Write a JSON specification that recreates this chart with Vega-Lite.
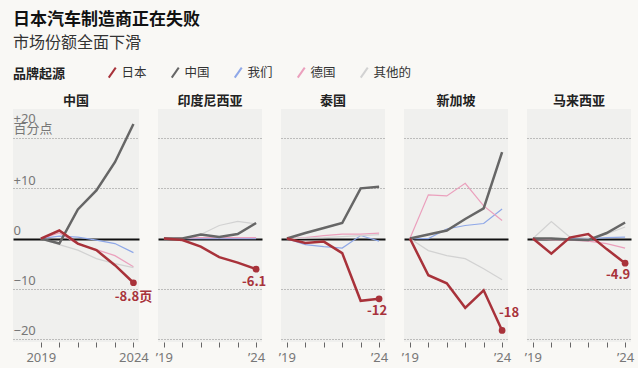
{
  "$schema": "https://vega.github.io/schema/vega-lite/v6.json",
  "background": "#f9f8f5",
  "padding": {"left": 13, "right": 4, "top": 11, "bottom": 4},
  "bounds": "flush",
  "title": {"text": "日本汽车制造商正在失败", "subtitle": "市场份额全面下滑", "anchor": "start", "frame": "group", "fontSize": 17, "fontWeight": "bold", "color": "#111111", "subtitleFontSize": 16, "subtitleColor": "#333333", "subtitleFont": "Noto Sans CJK SC", "subtitlePadding": 6, "offset": 14},
  "data": {"values": [
    {"c":"中国","b":"日本","yr":2019,"v":0},{"c":"中国","b":"日本","yr":2020,"v":1.6},{"c":"中国","b":"日本","yr":2021,"v":-1.0},{"c":"中国","b":"日本","yr":2022,"v":-2.3},{"c":"中国","b":"日本","yr":2023,"v":-5.3},{"c":"中国","b":"日本","yr":2024,"v":-8.8,"t":"-8.8页"},
    {"c":"中国","b":"中国","yr":2019,"v":0},{"c":"中国","b":"中国","yr":2020,"v":-1.0},{"c":"中国","b":"中国","yr":2021,"v":5.8},{"c":"中国","b":"中国","yr":2022,"v":9.6},{"c":"中国","b":"中国","yr":2023,"v":15.2},{"c":"中国","b":"中国","yr":2024,"v":22.8},
    {"c":"中国","b":"我们","yr":2019,"v":0},{"c":"中国","b":"我们","yr":2020,"v":0.5},{"c":"中国","b":"我们","yr":2021,"v":0.3},{"c":"中国","b":"我们","yr":2022,"v":-0.3},{"c":"中国","b":"我们","yr":2023,"v":-1.0},{"c":"中国","b":"我们","yr":2024,"v":-2.8},
    {"c":"中国","b":"德国","yr":2019,"v":0},{"c":"中国","b":"德国","yr":2020,"v":1.1},{"c":"中国","b":"德国","yr":2021,"v":-1.1},{"c":"中国","b":"德国","yr":2022,"v":-2.2},{"c":"中国","b":"德国","yr":2023,"v":-3.4},{"c":"中国","b":"德国","yr":2024,"v":-5.6},
    {"c":"中国","b":"其他的","yr":2019,"v":0},{"c":"中国","b":"其他的","yr":2020,"v":-1.2},{"c":"中国","b":"其他的","yr":2021,"v":-2.3},{"c":"中国","b":"其他的","yr":2022,"v":-4.0},{"c":"中国","b":"其他的","yr":2023,"v":-5.0},{"c":"中国","b":"其他的","yr":2024,"v":-5.8},
    {"c":"印度尼西亚","b":"日本","yr":2019,"v":0},{"c":"印度尼西亚","b":"日本","yr":2020,"v":-0.3},{"c":"印度尼西亚","b":"日本","yr":2021,"v":-1.6},{"c":"印度尼西亚","b":"日本","yr":2022,"v":-3.7},{"c":"印度尼西亚","b":"日本","yr":2023,"v":-4.8},{"c":"印度尼西亚","b":"日本","yr":2024,"v":-6.1,"t":"-6.1"},
    {"c":"印度尼西亚","b":"中国","yr":2019,"v":0},{"c":"印度尼西亚","b":"中国","yr":2020,"v":0},{"c":"印度尼西亚","b":"中国","yr":2021,"v":0.8},{"c":"印度尼西亚","b":"中国","yr":2022,"v":0.3},{"c":"印度尼西亚","b":"中国","yr":2023,"v":0.9},{"c":"印度尼西亚","b":"中国","yr":2024,"v":3.1},
    {"c":"印度尼西亚","b":"我们","yr":2019,"v":0},{"c":"印度尼西亚","b":"我们","yr":2020,"v":0},{"c":"印度尼西亚","b":"我们","yr":2021,"v":0},{"c":"印度尼西亚","b":"我们","yr":2022,"v":0},{"c":"印度尼西亚","b":"我们","yr":2023,"v":0},{"c":"印度尼西亚","b":"我们","yr":2024,"v":0},
    {"c":"印度尼西亚","b":"德国","yr":2019,"v":0},{"c":"印度尼西亚","b":"德国","yr":2020,"v":0.1},{"c":"印度尼西亚","b":"德国","yr":2021,"v":0.2},{"c":"印度尼西亚","b":"德国","yr":2022,"v":0.2},{"c":"印度尼西亚","b":"德国","yr":2023,"v":0.2},{"c":"印度尼西亚","b":"德国","yr":2024,"v":0.2},
    {"c":"印度尼西亚","b":"其他的","yr":2019,"v":0},{"c":"印度尼西亚","b":"其他的","yr":2020,"v":0},{"c":"印度尼西亚","b":"其他的","yr":2021,"v":0.8},{"c":"印度尼西亚","b":"其他的","yr":2022,"v":2.6},{"c":"印度尼西亚","b":"其他的","yr":2023,"v":3.4},{"c":"印度尼西亚","b":"其他的","yr":2024,"v":2.9},
    {"c":"泰国","b":"日本","yr":2019,"v":0},{"c":"泰国","b":"日本","yr":2020,"v":-0.9},{"c":"泰国","b":"日本","yr":2021,"v":-0.6},{"c":"泰国","b":"日本","yr":2022,"v":-2.9},{"c":"泰国","b":"日本","yr":2023,"v":-12.4},{"c":"泰国","b":"日本","yr":2024,"v":-12.0,"t":"-12"},
    {"c":"泰国","b":"中国","yr":2019,"v":0},{"c":"泰国","b":"中国","yr":2020,"v":1.1},{"c":"泰国","b":"中国","yr":2021,"v":2.1},{"c":"泰国","b":"中国","yr":2022,"v":3.1},{"c":"泰国","b":"中国","yr":2023,"v":10.0},{"c":"泰国","b":"中国","yr":2024,"v":10.3},
    {"c":"泰国","b":"我们","yr":2019,"v":0},{"c":"泰国","b":"我们","yr":2020,"v":-1.2},{"c":"泰国","b":"我们","yr":2021,"v":-1.6},{"c":"泰国","b":"我们","yr":2022,"v":-1.9},{"c":"泰国","b":"我们","yr":2023,"v":0.6},{"c":"泰国","b":"我们","yr":2024,"v":-0.5},
    {"c":"泰国","b":"德国","yr":2019,"v":0},{"c":"泰国","b":"德国","yr":2020,"v":0.2},{"c":"泰国","b":"德国","yr":2021,"v":0.6},{"c":"泰国","b":"德国","yr":2022,"v":0.9},{"c":"泰国","b":"德国","yr":2023,"v":0.9},{"c":"泰国","b":"德国","yr":2024,"v":1.1},
    {"c":"泰国","b":"其他的","yr":2019,"v":0},{"c":"泰国","b":"其他的","yr":2020,"v":0.1},{"c":"泰国","b":"其他的","yr":2021,"v":0.2},{"c":"泰国","b":"其他的","yr":2022,"v":0.4},{"c":"泰国","b":"其他的","yr":2023,"v":0.6},{"c":"泰国","b":"其他的","yr":2024,"v":0.8},
    {"c":"新加坡","b":"日本","yr":2019,"v":0},{"c":"新加坡","b":"日本","yr":2020,"v":-7.3},{"c":"新加坡","b":"日本","yr":2021,"v":-8.9},{"c":"新加坡","b":"日本","yr":2022,"v":-13.8},{"c":"新加坡","b":"日本","yr":2023,"v":-10.3},{"c":"新加坡","b":"日本","yr":2024,"v":-18.3,"t":"-18"},
    {"c":"新加坡","b":"中国","yr":2019,"v":0},{"c":"新加坡","b":"中国","yr":2020,"v":0.8},{"c":"新加坡","b":"中国","yr":2021,"v":1.6},{"c":"新加坡","b":"中国","yr":2022,"v":3.9},{"c":"新加坡","b":"中国","yr":2023,"v":6.0},{"c":"新加坡","b":"中国","yr":2024,"v":17.2},
    {"c":"新加坡","b":"我们","yr":2019,"v":0},{"c":"新加坡","b":"我们","yr":2020,"v":0},{"c":"新加坡","b":"我们","yr":2021,"v":1.9},{"c":"新加坡","b":"我们","yr":2022,"v":2.6},{"c":"新加坡","b":"我们","yr":2023,"v":3.0},{"c":"新加坡","b":"我们","yr":2024,"v":5.9},
    {"c":"新加坡","b":"德国","yr":2019,"v":0},{"c":"新加坡","b":"德国","yr":2020,"v":8.7},{"c":"新加坡","b":"德国","yr":2021,"v":8.5},{"c":"新加坡","b":"德国","yr":2022,"v":11.0},{"c":"新加坡","b":"德国","yr":2023,"v":6.5},{"c":"新加坡","b":"德国","yr":2024,"v":3.6},
    {"c":"新加坡","b":"其他的","yr":2019,"v":0},{"c":"新加坡","b":"其他的","yr":2020,"v":-2.4},{"c":"新加坡","b":"其他的","yr":2021,"v":-3.4},{"c":"新加坡","b":"其他的","yr":2022,"v":-4.0},{"c":"新加坡","b":"其他的","yr":2023,"v":-6.0},{"c":"新加坡","b":"其他的","yr":2024,"v":-8.2},
    {"c":"马来西亚","b":"日本","yr":2019,"v":0},{"c":"马来西亚","b":"日本","yr":2020,"v":-3.0},{"c":"马来西亚","b":"日本","yr":2021,"v":0.2},{"c":"马来西亚","b":"日本","yr":2022,"v":0.9},{"c":"马来西亚","b":"日本","yr":2023,"v":-2.1},{"c":"马来西亚","b":"日本","yr":2024,"v":-4.9,"t":"-4.9"},
    {"c":"马来西亚","b":"中国","yr":2019,"v":0},{"c":"马来西亚","b":"中国","yr":2020,"v":0},{"c":"马来西亚","b":"中国","yr":2021,"v":-0.2},{"c":"马来西亚","b":"中国","yr":2022,"v":-0.3},{"c":"马来西亚","b":"中国","yr":2023,"v":1.1},{"c":"马来西亚","b":"中国","yr":2024,"v":3.2},
    {"c":"马来西亚","b":"我们","yr":2019,"v":0},{"c":"马来西亚","b":"我们","yr":2020,"v":0},{"c":"马来西亚","b":"我们","yr":2021,"v":0},{"c":"马来西亚","b":"我们","yr":2022,"v":0},{"c":"马来西亚","b":"我们","yr":2023,"v":0.2},{"c":"马来西亚","b":"我们","yr":2024,"v":0.3},
    {"c":"马来西亚","b":"德国","yr":2019,"v":0},{"c":"马来西亚","b":"德国","yr":2020,"v":-0.2},{"c":"马来西亚","b":"德国","yr":2021,"v":-0.3},{"c":"马来西亚","b":"德国","yr":2022,"v":-0.5},{"c":"马来西亚","b":"德国","yr":2023,"v":-1.0},{"c":"马来西亚","b":"德国","yr":2024,"v":-1.9},
    {"c":"马来西亚","b":"其他的","yr":2019,"v":0},{"c":"马来西亚","b":"其他的","yr":2020,"v":3.4},{"c":"马来西亚","b":"其他的","yr":2021,"v":0.3},{"c":"马来西亚","b":"其他的","yr":2022,"v":0.1},{"c":"马来西亚","b":"其他的","yr":2023,"v":0.9},{"c":"马来西亚","b":"其他的","yr":2024,"v":2.3}
  ]},
  "spacing": 19,
  "hconcat": [
    {
      "width": 126, "height": 233,
      "title": {"text": "中国"},
      "transform": [{"filter": "datum.c == '中国'"}],
      "encoding": {
        "x": {"field": "yr", "type": "quantitative", "scale": {"domain": [2017.5, 2024.3], "nice": false, "zero": false}, "axis": {"values": [2019, 2020, 2021, 2022, 2023, 2024], "labelExpr": "datum.value == 2019 || datum.value == 2024 ? '' + datum.value : ''"}},
        "y": {"field": "v", "type": "quantitative", "scale": {"domain": [-20.6, 25.8], "nice": false, "zero": false}, "axis": {"values": [-20, -10, 0, 10, 20], "labelAlign": "left", "labelBaseline": "bottom", "labelPadding": 0, "labelOffset": {"condition": {"test": "datum.value === 20", "value": -13}, "value": -1}, "labelFontSize": 13, "labelColor": "#777777", "labelFont": "Noto Sans, Noto Sans CJK SC", "labelLineHeight": 10, "labelOverlap": false, "labelFlush": false, "labelBound": false, "labelExpr": "datum.value == 20 ? ['+20', '百分点'] : datum.value > 0 ? '+' + datum.value : datum.value < 0 ? '−' + abs(datum.value) : '0'"}}
      },
      "layer": [
        {"transform": [{"filter": "indexof(['我们','德国','其他的'], datum.b) >= 0"}], "mark": {"type": "line", "strokeWidth": 1.2}, "encoding": {"color": {"field": "b", "type": "nominal", "title": "品牌起源", "scale": {"domain": ["日本", "中国", "我们", "德国", "其他的"], "range": ["#a8323a", "#666666", "#8fa8e8", "#eba0bd", "#d2d2d2"]}}}},
        {"transform": [{"filter": "datum.b == '中国'"}], "mark": {"type": "line", "strokeWidth": 2.5}, "encoding": {"color": {"field": "b", "type": "nominal"}}},
        {"transform": [{"filter": "datum.b == '日本'"}], "mark": {"type": "line", "strokeWidth": 2.5}, "encoding": {"color": {"field": "b", "type": "nominal"}}},
        {"transform": [{"filter": "datum.t"}], "mark": {"type": "circle", "size": 45, "opacity": 1, "color": "#a8323a"}},
        {"transform": [{"filter": "datum.t"}], "mark": {"type": "text", "dx": 0, "dy": 14, "fontSize": 13, "fontWeight": "bold", "color": "#a8323a"}, "encoding": {"text": {"field": "t"}}}
      ]
    },
    {
      "width": 104, "height": 233,
      "title": {"text": "印度尼西亚"},
      "transform": [{"filter": "datum.c == '印度尼西亚'"}],
      "encoding": {
        "x": {"field": "yr", "type": "quantitative", "scale": {"domain": [2018.68, 2024.32], "nice": false, "zero": false}, "axis": {"values": [2019, 2020, 2021, 2022, 2023, 2024], "labelExpr": "datum.value == 2019 ? '’19' : datum.value == 2024 ? '’24' : ''"}},
        "y": {"field": "v", "type": "quantitative", "scale": {"domain": [-20.6, 25.8], "nice": false, "zero": false}, "axis": {"values": [-20, -10, 0, 10, 20], "labels": false}}
      },
      "layer": [
        {"transform": [{"filter": "indexof(['我们','德国','其他的'], datum.b) >= 0"}], "mark": {"type": "line", "strokeWidth": 1.2}, "encoding": {"color": {"field": "b", "type": "nominal", "title": "品牌起源", "scale": {"domain": ["日本", "中国", "我们", "德国", "其他的"], "range": ["#a8323a", "#666666", "#8fa8e8", "#eba0bd", "#d2d2d2"]}}}},
        {"transform": [{"filter": "datum.b == '中国'"}], "mark": {"type": "line", "strokeWidth": 2.5}, "encoding": {"color": {"field": "b", "type": "nominal"}}},
        {"transform": [{"filter": "datum.b == '日本'"}], "mark": {"type": "line", "strokeWidth": 2.5}, "encoding": {"color": {"field": "b", "type": "nominal"}}},
        {"transform": [{"filter": "datum.t"}], "mark": {"type": "circle", "size": 45, "opacity": 1, "color": "#a8323a"}},
        {"transform": [{"filter": "datum.t"}], "mark": {"type": "text", "dx": -2, "dy": 13, "fontSize": 13, "fontWeight": "bold", "color": "#a8323a"}, "encoding": {"text": {"field": "t"}}}
      ]
    },
    {
      "width": 104, "height": 233,
      "title": {"text": "泰国"},
      "transform": [{"filter": "datum.c == '泰国'"}],
      "encoding": {
        "x": {"field": "yr", "type": "quantitative", "scale": {"domain": [2018.68, 2024.32], "nice": false, "zero": false}, "axis": {"values": [2019, 2020, 2021, 2022, 2023, 2024], "labelExpr": "datum.value == 2019 ? '’19' : datum.value == 2024 ? '’24' : ''"}},
        "y": {"field": "v", "type": "quantitative", "scale": {"domain": [-20.6, 25.8], "nice": false, "zero": false}, "axis": {"values": [-20, -10, 0, 10, 20], "labels": false}}
      },
      "layer": [
        {"transform": [{"filter": "indexof(['我们','德国','其他的'], datum.b) >= 0"}], "mark": {"type": "line", "strokeWidth": 1.2}, "encoding": {"color": {"field": "b", "type": "nominal", "title": "品牌起源", "scale": {"domain": ["日本", "中国", "我们", "德国", "其他的"], "range": ["#a8323a", "#666666", "#8fa8e8", "#eba0bd", "#d2d2d2"]}}}},
        {"transform": [{"filter": "datum.b == '中国'"}], "mark": {"type": "line", "strokeWidth": 2.5}, "encoding": {"color": {"field": "b", "type": "nominal"}}},
        {"transform": [{"filter": "datum.b == '日本'"}], "mark": {"type": "line", "strokeWidth": 2.5}, "encoding": {"color": {"field": "b", "type": "nominal"}}},
        {"transform": [{"filter": "datum.t"}], "mark": {"type": "circle", "size": 45, "opacity": 1, "color": "#a8323a"}},
        {"transform": [{"filter": "datum.t"}], "mark": {"type": "text", "dx": -2, "dy": 12, "fontSize": 13, "fontWeight": "bold", "color": "#a8323a"}, "encoding": {"text": {"field": "t"}}}
      ]
    },
    {
      "width": 104, "height": 233,
      "title": {"text": "新加坡"},
      "transform": [{"filter": "datum.c == '新加坡'"}],
      "encoding": {
        "x": {"field": "yr", "type": "quantitative", "scale": {"domain": [2018.68, 2024.32], "nice": false, "zero": false}, "axis": {"values": [2019, 2020, 2021, 2022, 2023, 2024], "labelExpr": "datum.value == 2019 ? '’19' : datum.value == 2024 ? '’24' : ''"}},
        "y": {"field": "v", "type": "quantitative", "scale": {"domain": [-20.6, 25.8], "nice": false, "zero": false}, "axis": {"values": [-20, -10, 0, 10, 20], "labels": false}}
      },
      "layer": [
        {"transform": [{"filter": "indexof(['我们','德国','其他的'], datum.b) >= 0"}], "mark": {"type": "line", "strokeWidth": 1.2}, "encoding": {"color": {"field": "b", "type": "nominal", "title": "品牌起源", "scale": {"domain": ["日本", "中国", "我们", "德国", "其他的"], "range": ["#a8323a", "#666666", "#8fa8e8", "#eba0bd", "#d2d2d2"]}}}},
        {"transform": [{"filter": "datum.b == '中国'"}], "mark": {"type": "line", "strokeWidth": 2.5}, "encoding": {"color": {"field": "b", "type": "nominal"}}},
        {"transform": [{"filter": "datum.b == '日本'"}], "mark": {"type": "line", "strokeWidth": 2.5}, "encoding": {"color": {"field": "b", "type": "nominal"}}},
        {"transform": [{"filter": "datum.t"}], "mark": {"type": "circle", "size": 45, "opacity": 1, "color": "#a8323a"}},
        {"transform": [{"filter": "datum.t"}], "mark": {"type": "text", "dx": 7, "dy": -17, "fontSize": 13, "fontWeight": "bold", "color": "#a8323a"}, "encoding": {"text": {"field": "t"}}}
      ]
    },
    {
      "width": 104, "height": 233,
      "title": {"text": "马来西亚"},
      "transform": [{"filter": "datum.c == '马来西亚'"}],
      "encoding": {
        "x": {"field": "yr", "type": "quantitative", "scale": {"domain": [2018.68, 2024.32], "nice": false, "zero": false}, "axis": {"values": [2019, 2020, 2021, 2022, 2023, 2024], "labelExpr": "datum.value == 2019 ? '’19' : datum.value == 2024 ? '’24' : ''"}},
        "y": {"field": "v", "type": "quantitative", "scale": {"domain": [-20.6, 25.8], "nice": false, "zero": false}, "axis": {"values": [-20, -10, 0, 10, 20], "labels": false}}
      },
      "layer": [
        {"transform": [{"filter": "indexof(['我们','德国','其他的'], datum.b) >= 0"}], "mark": {"type": "line", "strokeWidth": 1.2}, "encoding": {"color": {"field": "b", "type": "nominal", "title": "品牌起源", "scale": {"domain": ["日本", "中国", "我们", "德国", "其他的"], "range": ["#a8323a", "#666666", "#8fa8e8", "#eba0bd", "#d2d2d2"]}}}},
        {"transform": [{"filter": "datum.b == '中国'"}], "mark": {"type": "line", "strokeWidth": 2.5}, "encoding": {"color": {"field": "b", "type": "nominal"}}},
        {"transform": [{"filter": "datum.b == '日本'"}], "mark": {"type": "line", "strokeWidth": 2.5}, "encoding": {"color": {"field": "b", "type": "nominal"}}},
        {"transform": [{"filter": "datum.t"}], "mark": {"type": "circle", "size": 45, "opacity": 1, "color": "#a8323a"}},
        {"transform": [{"filter": "datum.t"}], "mark": {"type": "text", "dx": -7, "dy": 12, "fontSize": 13, "fontWeight": "bold", "color": "#a8323a"}, "encoding": {"text": {"field": "t"}}}
      ]
    }
  ],
  "resolve": {"scale": {"x": "independent", "y": "independent", "color": "shared"}},
  "config": {
    "font": "Noto Sans CJK SC",
    "view": {"stroke": null, "fill": "#f0f0ee"},
    "title": {"fontSize": 13, "fontWeight": "bold", "color": "#222222", "offset": 1, "anchor": "middle"},
    "axis": {"title": null, "domain": false, "labelOverlap": false, "labelFlush": false},
    "axisX": {"grid": false, "tickSize": 5, "tickColor": "#666666", "labelFontSize": 13, "labelColor": "#777777", "labelPadding": 4, "labelFont": "Noto Sans", "labelOverlap": false},
    "axisY": {"ticks": false, "grid": true, "gridDash": {"condition": {"test": "datum.value === 0", "value": []}, "value": [1, 2]}, "gridColor": {"condition": {"test": "datum.value === 0", "value": "#111111"}, "value": "#888888"}, "gridWidth": {"condition": {"test": "datum.value === 0", "value": 1.8}, "value": 1}},
    "legend": {"orient": "top", "direction": "horizontal", "titleOrient": "left", "titleFontSize": 13, "titleFontWeight": "bold", "titleColor": "#222222", "labelFontSize": 12.5, "labelColor": "#333333", "symbolType": "M-0.7,1L0.7,-1", "symbolSize": 100, "symbolStrokeWidth": 2, "columnPadding": 20, "labelOffset": 3, "titlePadding": 40, "offset": 13, "padding": 0}
  }
}
